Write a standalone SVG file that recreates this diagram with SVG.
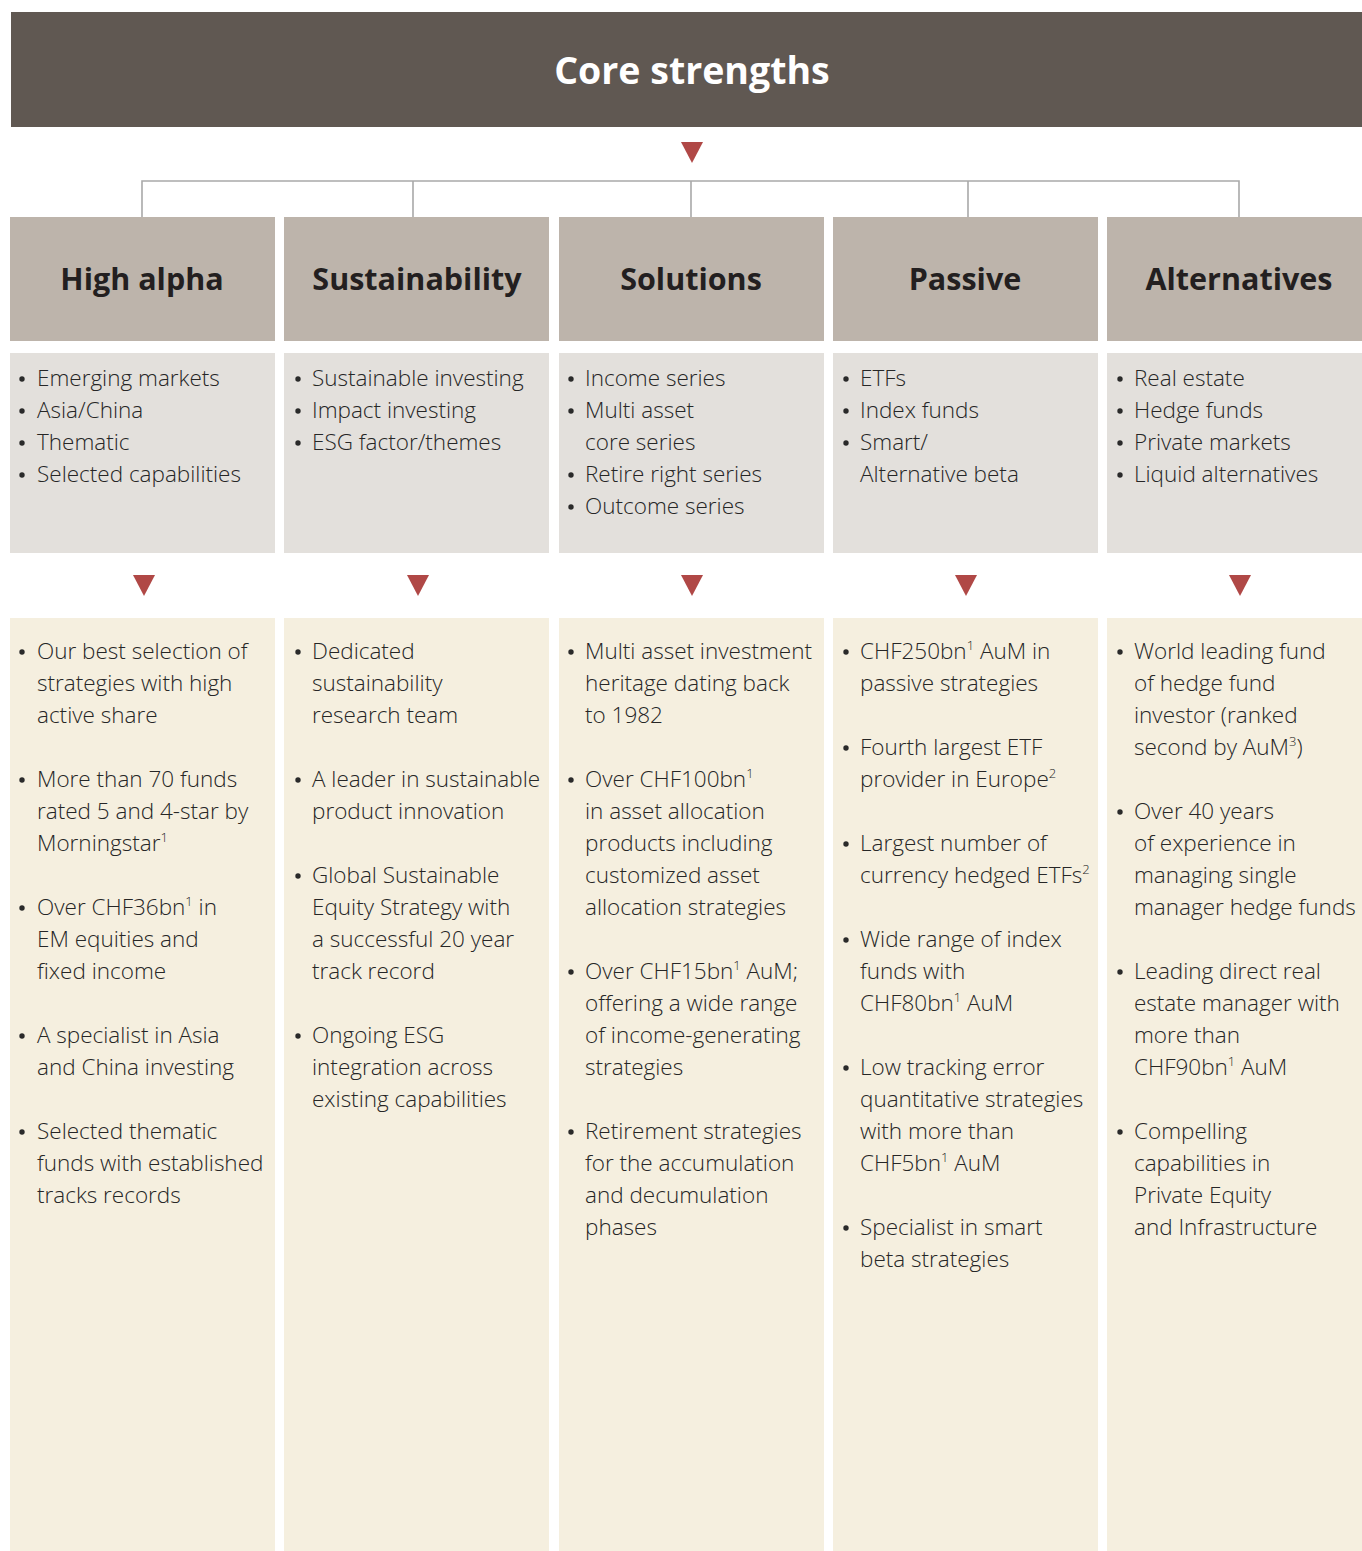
<svg xmlns="http://www.w3.org/2000/svg" width="1362" height="1551" viewBox="0 0 1362 1551">
<defs>
<circle id="bu" r="2.7" fill="#2a2a2a"/>
</defs>
<style>
.hd{fill:#bdb4ab}
.md{fill:#e3e0dc}
.bt{fill:#f5efdf}
.ht{font-family:"Open Sans","Liberation Sans",sans-serif;font-weight:700;font-size:30.5px;fill:#231f20;text-anchor:middle}
.t{font-family:"Open Sans","Liberation Sans",sans-serif;font-weight:300;font-size:22.5px;fill:#262626}
.s{font-size:13px}
.tri{fill:#b04846}
.ln{stroke:#a9a9a9;stroke-width:1.6;fill:none}
</style>
<rect width="1362" height="1551" fill="#ffffff"/>
<g id="title">
<rect x="11" y="12" width="1351" height="115" fill="#605852"/>
<text x="692" y="84" font-family="'Open Sans','Liberation Sans',sans-serif" font-weight="700" font-size="37.5" fill="#ffffff" text-anchor="middle">Core strengths</text>
</g>
<g id="connectors">
<polygon class="tri" points="681,142 703,142 692,163"/>
<path class="ln" d="M142,217 V181 H1239 V217 M413,181 V217 M691,181 V217 M968,181 V217"/>
<polygon class="tri" points="133,575 155,575 144,596"/>
<polygon class="tri" points="407,575 429,575 418,596"/>
<polygon class="tri" points="681,575 703,575 692,596"/>
<polygon class="tri" points="955,575 977,575 966,596"/>
<polygon class="tri" points="1229,575 1251,575 1240,596"/>
</g>

<g id="col-high-alpha">
<rect class="hd" x="10" y="217" width="265" height="124"/>
<text class="ht" x="142" y="290">High alpha</text>
<rect class="md" x="10" y="353" width="265" height="200"/>
<use href="#bu" x="22" y="379"/><text class="t" x="37" y="386">Emerging markets</text>
<use href="#bu" x="22" y="411"/><text class="t" x="37" y="418">Asia/China</text>
<use href="#bu" x="22" y="443"/><text class="t" x="37" y="450">Thematic</text>
<use href="#bu" x="22" y="475"/><text class="t" x="37" y="482">Selected capabilities</text>
<rect class="bt" x="10" y="618" width="265" height="933"/>
<use href="#bu" x="22" y="652"/><text class="t" x="37" y="659">Our best selection of</text>
<text class="t" x="37" y="691">strategies with high</text>
<text class="t" x="37" y="723">active share</text>
<use href="#bu" x="22" y="780"/><text class="t" x="37" y="787">More than 70 funds</text>
<text class="t" x="37" y="819">rated 5 and 4-star by</text>
<text class="t" x="37" y="851">Morningstar<tspan class="s" dy="-9">1</tspan></text>
<use href="#bu" x="22" y="908"/><text class="t" x="37" y="915">Over CHF36bn<tspan class="s" dy="-9">1</tspan><tspan dy="9"> in</tspan></text>
<text class="t" x="37" y="947">EM equities and</text>
<text class="t" x="37" y="979">fixed income</text>
<use href="#bu" x="22" y="1036"/><text class="t" x="37" y="1043">A specialist in Asia</text>
<text class="t" x="37" y="1075">and China investing</text>
<use href="#bu" x="22" y="1132"/><text class="t" x="37" y="1139">Selected thematic</text>
<text class="t" x="37" y="1171">funds with established</text>
<text class="t" x="37" y="1203">tracks records</text>
</g>

<g id="col-sustainability">
<rect class="hd" x="284" y="217" width="265" height="124"/>
<text class="ht" x="417" y="290">Sustainability</text>
<rect class="md" x="284" y="353" width="265" height="200"/>
<use href="#bu" x="298" y="379"/><text class="t" x="312" y="386">Sustainable investing</text>
<use href="#bu" x="298" y="411"/><text class="t" x="312" y="418">Impact investing</text>
<use href="#bu" x="298" y="443"/><text class="t" x="312" y="450">ESG factor/themes</text>
<rect class="bt" x="284" y="618" width="265" height="933"/>
<use href="#bu" x="298" y="652"/><text class="t" x="312" y="659">Dedicated</text>
<text class="t" x="312" y="691">sustainability</text>
<text class="t" x="312" y="723">research team</text>
<use href="#bu" x="298" y="780"/><text class="t" x="312" y="787">A leader in sustainable</text>
<text class="t" x="312" y="819">product innovation</text>
<use href="#bu" x="298" y="876"/><text class="t" x="312" y="883">Global Sustainable</text>
<text class="t" x="312" y="915">Equity Strategy with</text>
<text class="t" x="312" y="947">a successful 20 year</text>
<text class="t" x="312" y="979">track record</text>
<use href="#bu" x="298" y="1036"/><text class="t" x="312" y="1043">Ongoing ESG</text>
<text class="t" x="312" y="1075">integration across</text>
<text class="t" x="312" y="1107">existing capabilities</text>
</g>

<g id="col-solutions">
<rect class="hd" x="559" y="217" width="265" height="124"/>
<text class="ht" x="691" y="290">Solutions</text>
<rect class="md" x="559" y="353" width="265" height="200"/>
<use href="#bu" x="571" y="379"/><text class="t" x="585" y="386">Income series</text>
<use href="#bu" x="571" y="411"/><text class="t" x="585" y="418">Multi asset</text>
<text class="t" x="585" y="450">core series</text>
<use href="#bu" x="571" y="475"/><text class="t" x="585" y="482">Retire right series</text>
<use href="#bu" x="571" y="507"/><text class="t" x="585" y="514">Outcome series</text>
<rect class="bt" x="559" y="618" width="265" height="933"/>
<use href="#bu" x="571" y="652"/><text class="t" x="585" y="659">Multi asset investment</text>
<text class="t" x="585" y="691">heritage dating back</text>
<text class="t" x="585" y="723">to 1982</text>
<use href="#bu" x="571" y="780"/><text class="t" x="585" y="787">Over CHF100bn<tspan class="s" dy="-9">1</tspan></text>
<text class="t" x="585" y="819">in asset allocation</text>
<text class="t" x="585" y="851">products including</text>
<text class="t" x="585" y="883">customized asset</text>
<text class="t" x="585" y="915">allocation strategies</text>
<use href="#bu" x="571" y="972"/><text class="t" x="585" y="979">Over CHF15bn<tspan class="s" dy="-9">1</tspan><tspan dy="9"> AuM;</tspan></text>
<text class="t" x="585" y="1011">offering a wide range</text>
<text class="t" x="585" y="1043">of income-generating</text>
<text class="t" x="585" y="1075">strategies</text>
<use href="#bu" x="571" y="1132"/><text class="t" x="585" y="1139">Retirement strategies</text>
<text class="t" x="585" y="1171">for the accumulation</text>
<text class="t" x="585" y="1203">and decumulation</text>
<text class="t" x="585" y="1235">phases</text>
</g>

<g id="col-passive">
<rect class="hd" x="833" y="217" width="265" height="124"/>
<text class="ht" x="965" y="290">Passive</text>
<rect class="md" x="833" y="353" width="265" height="200"/>
<use href="#bu" x="846" y="379"/><text class="t" x="860" y="386">ETFs</text>
<use href="#bu" x="846" y="411"/><text class="t" x="860" y="418">Index funds</text>
<use href="#bu" x="846" y="443"/><text class="t" x="860" y="450">Smart/</text>
<text class="t" x="860" y="482">Alternative beta</text>
<rect class="bt" x="833" y="618" width="265" height="933"/>
<use href="#bu" x="846" y="652"/><text class="t" x="860" y="659">CHF250bn<tspan class="s" dy="-9">1</tspan><tspan dy="9"> AuM in</tspan></text>
<text class="t" x="860" y="691">passive strategies</text>
<use href="#bu" x="846" y="748"/><text class="t" x="860" y="755">Fourth largest ETF</text>
<text class="t" x="860" y="787">provider in Europe<tspan class="s" dy="-9">2</tspan></text>
<use href="#bu" x="846" y="844"/><text class="t" x="860" y="851">Largest number of</text>
<text class="t" x="860" y="883">currency hedged ETFs<tspan class="s" dy="-9">2</tspan></text>
<use href="#bu" x="846" y="940"/><text class="t" x="860" y="947">Wide range of index</text>
<text class="t" x="860" y="979">funds with</text>
<text class="t" x="860" y="1011">CHF80bn<tspan class="s" dy="-9">1</tspan><tspan dy="9"> AuM</tspan></text>
<use href="#bu" x="846" y="1068"/><text class="t" x="860" y="1075">Low tracking error</text>
<text class="t" x="860" y="1107">quantitative strategies</text>
<text class="t" x="860" y="1139">with more than</text>
<text class="t" x="860" y="1171">CHF5bn<tspan class="s" dy="-9">1</tspan><tspan dy="9"> AuM</tspan></text>
<use href="#bu" x="846" y="1228"/><text class="t" x="860" y="1235">Specialist in smart</text>
<text class="t" x="860" y="1267">beta strategies</text>
</g>

<g id="col-alternatives">
<rect class="hd" x="1107" y="217" width="255" height="124"/>
<text class="ht" x="1239" y="290">Alternatives</text>
<rect class="md" x="1107" y="353" width="255" height="200"/>
<use href="#bu" x="1120" y="379"/><text class="t" x="1134" y="386">Real estate</text>
<use href="#bu" x="1120" y="411"/><text class="t" x="1134" y="418">Hedge funds</text>
<use href="#bu" x="1120" y="443"/><text class="t" x="1134" y="450">Private markets</text>
<use href="#bu" x="1120" y="475"/><text class="t" x="1134" y="482">Liquid alternatives</text>
<rect class="bt" x="1107" y="618" width="255" height="933"/>
<use href="#bu" x="1120" y="652"/><text class="t" x="1134" y="659">World leading fund</text>
<text class="t" x="1134" y="691">of hedge fund</text>
<text class="t" x="1134" y="723">investor (ranked</text>
<text class="t" x="1134" y="755">second by AuM<tspan class="s" dy="-9">3</tspan><tspan dy="9">)</tspan></text>
<use href="#bu" x="1120" y="812"/><text class="t" x="1134" y="819">Over 40 years</text>
<text class="t" x="1134" y="851">of experience in</text>
<text class="t" x="1134" y="883">managing single</text>
<text class="t" x="1134" y="915">manager hedge funds</text>
<use href="#bu" x="1120" y="972"/><text class="t" x="1134" y="979">Leading direct real</text>
<text class="t" x="1134" y="1011">estate manager with</text>
<text class="t" x="1134" y="1043">more than</text>
<text class="t" x="1134" y="1075">CHF90bn<tspan class="s" dy="-9">1</tspan><tspan dy="9"> AuM</tspan></text>
<use href="#bu" x="1120" y="1132"/><text class="t" x="1134" y="1139">Compelling</text>
<text class="t" x="1134" y="1171">capabilities in</text>
<text class="t" x="1134" y="1203">Private Equity</text>
<text class="t" x="1134" y="1235">and Infrastructure</text>
</g>
</svg>
